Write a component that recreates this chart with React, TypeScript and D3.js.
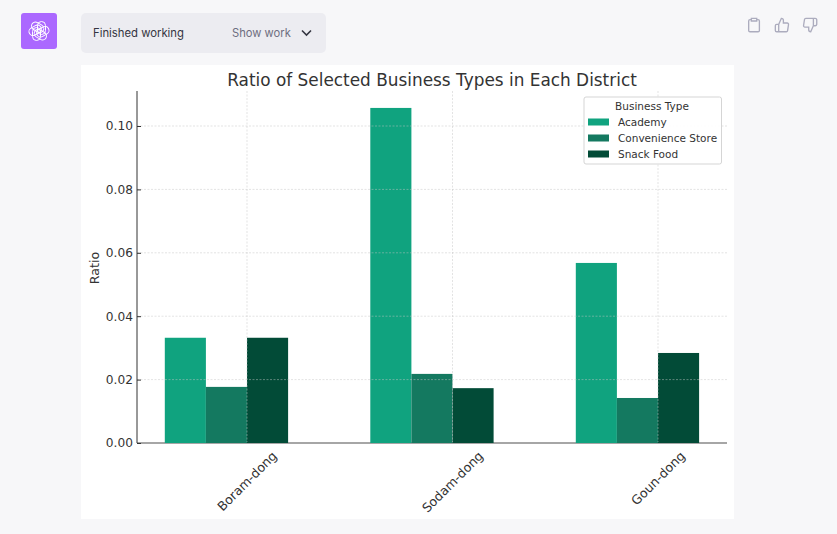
import React, { useEffect, useRef } from "react";
import * as d3 from "d3";

const DISTRICTS = ["Boram-dong", "Sodam-dong", "Goun-dong"];
const BUSINESS_TYPES = ["Academy", "Convenience Store", "Snack Food"];
const ACADEMY = [0.0332, 0.1057, 0.0568];
const CONVENIENCE = [0.0177, 0.0218, 0.0142];
const SNACK = [0.0332, 0.0173, 0.0284];
const SERIES = [ACADEMY, CONVENIENCE, SNACK];
const COLORS = ["#10a37f", "#147960", "#024b37"];
const Y_TICKS = [0, 0.02, 0.04, 0.06, 0.08, 0.1];

const CHART_FONT = "'DejaVu Sans', sans-serif";
const TEXT = "#333333";

const App: React.FC = () => {
  const svgRef = useRef<SVGSVGElement | null>(null);

  useEffect(() => {
    if (!svgRef.current) return;
    const svg = d3.select(svgRef.current);
    svg.selectAll("*").remove();

    /* page */
    svg.append("rect").attr("width", 837).attr("height", 534).attr("fill", "#f7f7f9");
    svg.append("rect").attr("x", 81).attr("y", 65).attr("width", 653).attr("height", 454).attr("fill", "#fff");

    const logo = svg.append("g").attr("transform", "translate(39,31)");
    logo.append("rect").attr("x", -18).attr("y", -18).attr("width", 36).attr("height", 36).attr("rx", 3).attr("fill", "#ab68ff");
    [0, 60, 120, 180, 240, 300].forEach((a) => {
      logo
        .append("rect")
        .attr("x", -1.5)
        .attr("y", -9.5)
        .attr("width", 8)
        .attr("height", 13)
        .attr("rx", 4)
        .attr("fill", "none")
        .attr("stroke", "#fff")
        .attr("stroke-width", 1)
        .attr("transform", `rotate(${a})`);
    });

    svg.append("rect").attr("x", 81).attr("y", 13).attr("width", 245).attr("height", 40).attr("rx", 5).attr("fill", "#ececf1");
    svg.append("text").attr("x", 93).attr("y", 37).attr("font-family", "Inter, sans-serif").attr("font-size", 11.3).attr("fill", "#343541").text("Finished working");
    svg.append("text").attr("x", 232).attr("y", 37).attr("font-family", "Inter, sans-serif").attr("font-size", 11.2).attr("fill", "#6e6e80").text("Show work");
    svg.append("path").attr("d", "M302 30.5l4.5 4.5 4.5-4.5").attr("fill", "none").attr("stroke", "#343541").attr("stroke-width", 1.6);

    const icons = [
      { x: 746, d: "M16 4h2a2 2 0 0 1 2 2v14a2 2 0 0 1-2 2H6a2 2 0 0 1-2-2V6a2 2 0 0 1 2-2h2M8 2h8v4H8z" },
      { x: 774, d: "M14 9V5a3 3 0 0 0-3-3l-4 9v11h11.28a2 2 0 0 0 2-1.7l1.38-9a2 2 0 0 0-2-2.3zM7 22H4a2 2 0 0 1-2-2v-7a2 2 0 0 1 2-2h3" },
      { x: 802, d: "M10 15v4a3 3 0 0 0 3 3l4-9V2H5.72a2 2 0 0 0-2 1.7l-1.38 9a2 2 0 0 0 2 2.3zm7-13h2.67A2.31 2.31 0 0 1 22 4v7a2.31 2.31 0 0 1-2.33 2H17" },
    ];
    icons.forEach((ic) => {
      svg
        .append("path")
        .attr("d", ic.d)
        .attr("transform", `translate(${ic.x},17) scale(0.67)`)
        .attr("fill", "none")
        .attr("stroke", "#acacbe")
        .attr("stroke-width", 2);
    });

    /* scales */
    const x = d3.scaleBand().domain(DISTRICTS).range([144.25, 760.75]);
    const inner = d3.scaleBand().domain(BUSINESS_TYPES).range([0, x.bandwidth() * 0.6]);
    // ticks sit on the boundary of the 2nd and 3rd bar, not on the group centre
    const groupOffset = x.bandwidth() * 0.1;
    const y = d3.scaleLinear().domain([0, 0.1]).range([443, 126]);
    const axisLeft = 137;
    const axisRight = 727;
    const axisTop = 91;

    svg.append("line").attr("x1", axisLeft).attr("x2", axisRight).attr("y1", 443).attr("y2", 443).attr("stroke", "#888").attr("stroke-width", 1.5);

    /* bars */
    SERIES.forEach((values, si) => {
      svg
        .append("g")
        .selectAll("rect")
        .data(values)
        .join("rect")
        .attr("x", (_, i) => x(DISTRICTS[i])! + groupOffset + inner(BUSINESS_TYPES[si])!)
        .attr("y", (d) => y(d))
        .attr("width", inner.bandwidth())
        .attr("height", (d) => y(0) - y(d))
        .attr("fill", COLORS[si]);
    });

    /* grid */
    const grid = svg.append("g").attr("stroke", "#c4c4c4").attr("stroke-opacity", 0.6).attr("stroke-width", 0.8).attr("stroke-dasharray", "2,1.5");
    Y_TICKS.slice(1).forEach((t) => {
      grid.append("line").attr("x1", axisLeft).attr("x2", axisRight).attr("y1", y(t)).attr("y2", y(t));
    });
    DISTRICTS.forEach((d) => {
      const cx = x(d)! + x.bandwidth() / 2;
      grid.append("line").attr("x1", cx).attr("x2", cx).attr("y1", axisTop).attr("y2", 442);
    });

    /* y axis, ticks point inward */
    const yAxis = d3.axisLeft(y).tickValues(Y_TICKS).tickFormat(d3.format(".2f")).tickSize(-4).tickPadding(4);
    const yG = svg.append("g").attr("transform", `translate(${axisLeft},0)`).call(yAxis);
    yG.select(".domain").remove();
    yG.selectAll(".tick line").attr("stroke", TEXT);
    yG.selectAll(".tick text").attr("fill", TEXT).attr("font-size", 12.2).attr("font-family", CHART_FONT);
    svg.append("line").attr("x1", axisLeft).attr("x2", axisLeft).attr("y1", axisTop).attr("y2", 443).attr("stroke", "#333").attr("stroke-width", 1);

    /* x labels, rotated about their centre and hung below the axis */
    DISTRICTS.forEach((d) => {
      const cx = x(d)! + x.bandwidth() / 2;
      const t = svg
        .append("text")
        .attr("text-anchor", "middle")
        .attr("dominant-baseline", "central")
        .attr("font-family", CHART_FONT)
        .attr("font-size", 12.6)
        .attr("fill", TEXT)
        .text(d);
      const len = (t.node() as SVGTextElement).getComputedTextLength();
      const cy = 449 + ((len + 13) * Math.SQRT1_2) / 2;
      t.attr("transform", `translate(${cx},${cy}) rotate(-45)`);
    });

    /* titles */
    svg.append("text").attr("x", 432).attr("y", 86).attr("text-anchor", "middle").attr("font-family", CHART_FONT).attr("font-size", 16.9).attr("fill", TEXT).text("Ratio of Selected Business Types in Each District");
    svg.append("text").attr("transform", "translate(99,268) rotate(-90)").attr("text-anchor", "middle").attr("font-family", CHART_FONT).attr("font-size", 12.6).attr("fill", TEXT).text("Ratio");

    /* legend */
    const legend = svg.append("g").attr("font-family", CHART_FONT).attr("font-size", 10.5).attr("fill", TEXT);
    legend.append("rect").attr("x", 584).attr("y", 97).attr("width", 137.5).attr("height", 67).attr("rx", 2).attr("fill", "#fff").attr("fill-opacity", 0.9).attr("stroke", "#d5d5d5");
    legend.append("text").attr("x", 652).attr("y", 110).attr("text-anchor", "middle").text("Business Type");
    BUSINESS_TYPES.forEach((b, i) => {
      const ly = 122 + i * 16;
      legend.append("rect").attr("x", 588).attr("y", ly - 3.5).attr("width", 21).attr("height", 7).attr("fill", COLORS[i]);
      legend.append("text").attr("x", 618).attr("y", ly + 4).text(b);
    });
  }, []);

  return <svg ref={svgRef} width={837} height={534} style={{ position: "absolute", left: 0, top: 0 }} />;
};

export default App;
